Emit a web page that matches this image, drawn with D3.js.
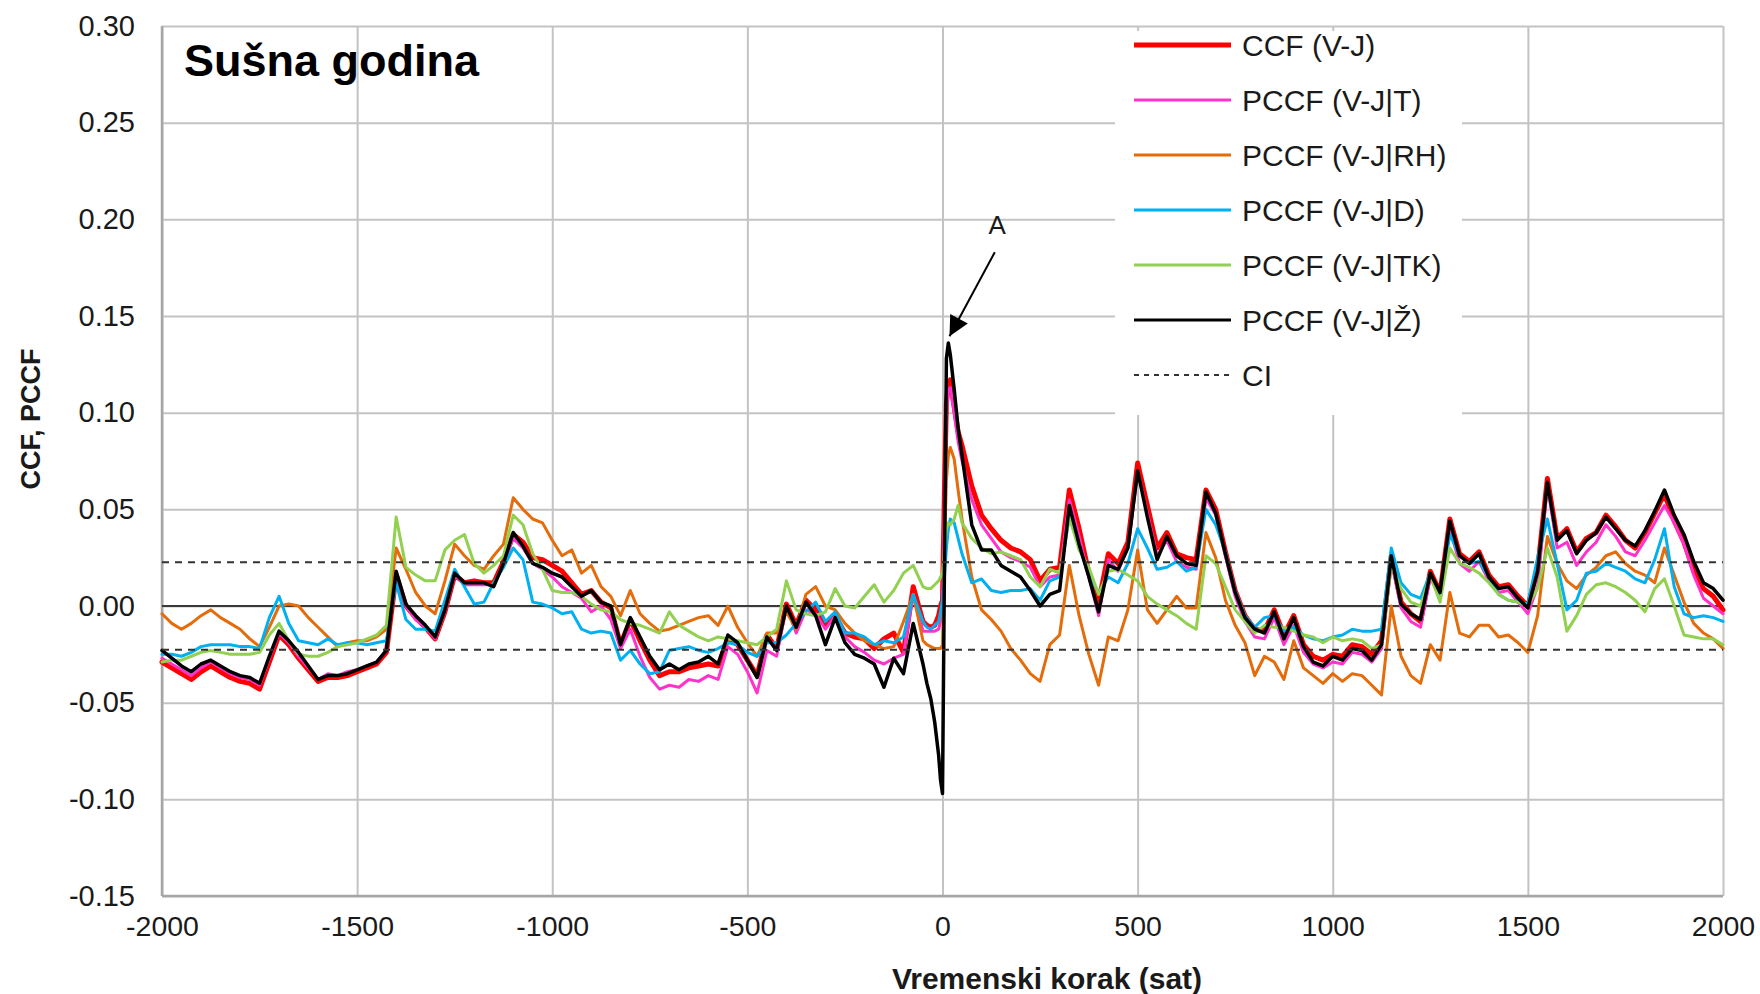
<!DOCTYPE html>
<html>
<head>
<meta charset="utf-8">
<script src="https://cdn.jsdelivr.net/npm/d3@7"></script>
<style>
  html, body { margin: 0; padding: 0; background: #ffffff; }
  svg { display: block; font-family: "Liberation Sans", Arial, sans-serif; }
</style>
</head>
<body>
<svg id="chart" width="1760" height="994"></svg>
<script>
// Lag axis (hours), finer spacing around zero lag
const lags = [
  -2000,-1975,-1950,-1925,-1900,-1875,-1850,-1825,-1800,-1775,
  -1750,-1725,-1700,-1675,-1650,-1625,-1600,-1575,-1550,-1525,
  -1500,-1475,-1450,-1425,-1400,-1375,-1350,-1325,-1300,-1275,
  -1250,-1225,-1200,-1175,-1150,-1125,-1100,-1075,-1050,-1025,
  -1000,-975,-950,-925,-900,-875,-850,-825,-800,-775,
  -750,-725,-700,-675,-650,-625,-600,-575,-550,-525,
  -500,-475,-450,-425,-400,-375,-350,-325,-300,-275,
  -250,-225,-200,-175,-150,-125,-100,-75,-50,-40,
  -30,-20,-10,-5,0,5,10,15,20,30,
  40,50,75,100,125,150,175,200,225,250,
  275,300,325,350,375,400,425,450,475,500,
  525,550,575,600,625,650,675,700,725,750,
  775,800,825,850,875,900,925,950,975,1000,
  1025,1050,1075,1100,1125,1150,1175,1200,1225,1250,
  1275,1300,1325,1350,1375,1400,1425,1450,1475,1500,
  1525,1550,1575,1600,1625,1650,1675,1700,1725,1750,
  1775,1800,1825,1850,1875,1900,1925,1950,1975,2000
];

// CCF (V-J)
const ccfVJ = [
  -0.029,-0.032,-0.035,-0.038,-0.034,-0.031,-0.034,-0.037,-0.039,-0.040,
  -0.043,-0.029,-0.015,-0.020,-0.027,-0.033,-0.039,-0.037,-0.037,-0.036,
  -0.034,-0.032,-0.030,-0.024,0.016,0.000,-0.006,-0.011,-0.017,-0.003,
  0.016,0.012,0.013,0.012,0.012,0.023,0.037,0.033,0.025,0.024,
  0.021,0.018,0.012,0.006,0.008,0.002,-0.001,-0.020,-0.007,-0.018,
  -0.028,-0.036,-0.034,-0.034,-0.032,-0.031,-0.030,-0.031,-0.017,-0.020,
  -0.028,-0.036,-0.015,-0.022,0.001,-0.010,0.003,-0.002,-0.010,-0.005,
  -0.014,-0.016,-0.017,-0.022,-0.017,-0.014,-0.024,0.010,-0.008,-0.010,
  -0.011,-0.010,-0.005,0.000,0.003,0.060,0.105,0.115,0.117,0.103,
  0.090,0.083,0.062,0.047,0.040,0.034,0.030,0.028,0.024,0.013,
  0.019,0.020,0.060,0.040,0.017,0.002,0.027,0.022,0.033,0.074,
  0.052,0.030,0.038,0.027,0.025,0.024,0.060,0.050,0.028,0.008,
  -0.005,-0.012,-0.013,-0.002,-0.015,-0.005,-0.020,-0.026,-0.028,-0.025,
  -0.026,-0.020,-0.021,-0.025,-0.018,0.026,0.002,-0.004,-0.008,0.018,
  0.007,0.045,0.027,0.023,0.028,0.016,0.010,0.011,0.005,0.000,
  0.019,0.066,0.035,0.040,0.028,0.035,0.038,0.047,0.041,0.034,
  0.030,0.038,0.048,0.058,0.044,0.033,0.018,0.009,0.005,-0.002
];

// PCCF (V-J|T)
const pccfT = [
  -0.027,-0.030,-0.033,-0.036,-0.032,-0.029,-0.032,-0.035,-0.037,-0.038,
  -0.041,-0.027,-0.014,-0.019,-0.026,-0.032,-0.038,-0.035,-0.036,-0.034,
  -0.033,-0.031,-0.029,-0.023,0.017,0.000,-0.007,-0.011,-0.017,-0.003,
  0.016,0.011,0.011,0.011,0.011,0.022,0.035,0.030,0.022,0.019,
  0.015,0.010,0.007,0.004,-0.003,0.000,-0.007,-0.022,-0.012,-0.026,
  -0.037,-0.043,-0.041,-0.042,-0.038,-0.039,-0.036,-0.038,-0.021,-0.025,
  -0.034,-0.045,-0.023,-0.026,0.000,-0.014,-0.002,-0.004,-0.012,-0.005,
  -0.016,-0.021,-0.024,-0.028,-0.030,-0.027,-0.025,0.006,-0.013,-0.013,
  -0.013,-0.013,-0.012,-0.008,0.000,0.050,0.100,0.112,0.113,0.100,
  0.085,0.075,0.055,0.042,0.035,0.028,0.025,0.023,0.020,0.010,
  0.015,0.016,0.055,0.036,0.015,-0.005,0.024,0.018,0.030,0.070,
  0.048,0.026,0.034,0.023,0.020,0.019,0.056,0.047,0.026,0.005,
  -0.008,-0.016,-0.017,-0.006,-0.020,-0.010,-0.024,-0.030,-0.032,-0.029,
  -0.030,-0.024,-0.025,-0.029,-0.022,0.024,-0.001,-0.008,-0.011,0.015,
  0.004,0.040,0.022,0.018,0.023,0.013,0.007,0.008,0.002,-0.004,
  0.010,0.063,0.030,0.033,0.021,0.028,0.033,0.042,0.036,0.028,
  0.026,0.034,0.043,0.052,0.043,0.032,0.016,0.004,0.000,-0.004
];

// PCCF (V-J|RH)
const pccfRH = [
  -0.004,-0.009,-0.012,-0.009,-0.005,-0.002,-0.006,-0.009,-0.012,-0.017,
  -0.021,-0.011,0.000,0.001,0.000,-0.006,-0.011,-0.016,-0.021,-0.019,
  -0.018,-0.018,-0.016,-0.012,0.030,0.019,0.007,0.000,-0.004,0.013,
  0.032,0.026,0.021,0.019,0.026,0.032,0.056,0.050,0.045,0.043,
  0.034,0.026,0.029,0.017,0.021,0.010,0.005,-0.005,0.008,-0.004,
  -0.009,-0.013,-0.012,-0.010,-0.008,-0.006,-0.005,-0.010,0.000,-0.011,
  -0.019,-0.026,-0.014,-0.014,-0.003,-0.012,0.006,0.010,0.000,-0.002,
  -0.009,-0.014,-0.018,-0.020,-0.022,-0.021,-0.008,0.006,-0.018,-0.020,
  -0.021,-0.022,-0.022,-0.022,-0.020,0.030,0.065,0.078,0.082,0.076,
  0.060,0.045,0.015,-0.002,-0.007,-0.013,-0.022,-0.028,-0.035,-0.039,
  -0.020,-0.015,0.021,-0.005,-0.025,-0.041,-0.016,-0.018,-0.002,0.029,
  -0.002,-0.009,-0.002,0.005,-0.001,-0.001,0.038,0.025,0.003,-0.010,
  -0.019,-0.036,-0.026,-0.029,-0.038,-0.018,-0.032,-0.036,-0.040,-0.035,
  -0.039,-0.035,-0.036,-0.041,-0.046,0.000,-0.026,-0.036,-0.040,-0.020,
  -0.028,0.007,-0.014,-0.016,-0.010,-0.010,-0.016,-0.015,-0.019,-0.024,
  -0.005,0.036,0.022,0.013,0.009,0.016,0.020,0.026,0.028,0.022,
  0.018,0.016,0.012,0.030,0.016,0.002,-0.009,-0.014,-0.017,-0.022
];

// PCCF (V-J|D)
const pccfD = [
  -0.025,-0.025,-0.026,-0.024,-0.021,-0.020,-0.020,-0.020,-0.021,-0.021,
  -0.022,-0.006,0.005,-0.009,-0.018,-0.019,-0.020,-0.017,-0.020,-0.019,
  -0.019,-0.020,-0.019,-0.018,0.012,-0.007,-0.012,-0.012,-0.013,0.003,
  0.019,0.010,0.001,0.002,0.012,0.020,0.030,0.024,0.002,0.001,
  -0.001,-0.004,-0.003,-0.012,-0.014,-0.013,-0.014,-0.028,-0.023,-0.030,
  -0.035,-0.034,-0.023,-0.022,-0.021,-0.023,-0.024,-0.022,-0.019,-0.020,
  -0.024,-0.026,-0.019,-0.019,-0.015,-0.009,-0.003,0.002,-0.008,-0.003,
  -0.014,-0.014,-0.016,-0.020,-0.018,-0.019,-0.016,0.006,-0.008,-0.011,
  -0.012,-0.010,-0.008,-0.003,0.003,0.015,0.030,0.040,0.045,0.043,
  0.035,0.027,0.012,0.014,0.008,0.007,0.008,0.008,0.009,0.003,
  0.013,0.015,0.046,0.031,0.016,0.007,0.015,0.012,0.022,0.040,
  0.030,0.019,0.020,0.023,0.018,0.020,0.050,0.042,0.028,0.008,
  -0.005,-0.011,-0.006,-0.005,-0.013,-0.011,-0.015,-0.017,-0.018,-0.016,
  -0.015,-0.012,-0.013,-0.013,-0.012,0.030,0.012,0.006,0.004,0.017,
  0.006,0.037,0.026,0.022,0.023,0.015,0.006,0.003,0.002,0.001,
  0.025,0.045,0.022,-0.002,0.003,0.017,0.018,0.022,0.020,0.018,
  0.014,0.012,0.024,0.040,0.010,-0.004,-0.006,-0.005,-0.006,-0.008
];

// PCCF (V-J|TK)
const pccfTK = [
  -0.029,-0.028,-0.028,-0.026,-0.024,-0.023,-0.024,-0.025,-0.025,-0.025,
  -0.024,-0.015,-0.009,-0.018,-0.025,-0.026,-0.026,-0.024,-0.021,-0.020,
  -0.019,-0.017,-0.015,-0.010,0.046,0.020,0.016,0.013,0.013,0.029,
  0.034,0.037,0.022,0.017,0.021,0.026,0.047,0.042,0.027,0.019,
  0.008,0.007,0.007,0.005,0.001,-0.002,-0.003,-0.007,-0.009,-0.010,
  -0.012,-0.014,-0.003,-0.010,-0.013,-0.016,-0.018,-0.016,-0.017,-0.018,
  -0.019,-0.020,-0.016,-0.012,0.013,-0.002,-0.004,-0.005,-0.003,0.009,
  0.000,-0.001,0.005,0.011,0.002,0.008,0.017,0.021,0.010,0.009,
  0.009,0.011,0.013,0.015,0.017,0.030,0.040,0.043,0.042,0.045,
  0.052,0.043,0.035,0.030,0.027,0.028,0.026,0.024,0.015,0.010,
  0.019,0.017,0.046,0.029,0.020,0.006,0.018,0.019,0.016,0.013,
  0.005,0.001,-0.002,-0.005,-0.009,-0.012,0.026,0.022,0.010,-0.002,
  -0.008,-0.014,-0.010,-0.011,-0.011,-0.013,-0.015,-0.016,-0.019,-0.016,
  -0.018,-0.017,-0.018,-0.022,-0.020,0.021,0.009,0.002,0.000,0.016,
  0.002,0.030,0.022,0.020,0.017,0.012,0.006,0.003,0.002,0.000,
  0.009,0.030,0.015,-0.013,-0.005,0.006,0.011,0.012,0.010,0.007,
  0.003,-0.003,0.009,0.014,0.000,-0.015,-0.016,-0.017,-0.017,-0.020
];

// PCCF (V-J|Ž)
const pccfZ = [
  -0.023,-0.027,-0.031,-0.034,-0.030,-0.028,-0.031,-0.034,-0.036,-0.037,
  -0.040,-0.026,-0.013,-0.018,-0.024,-0.031,-0.038,-0.036,-0.036,-0.035,
  -0.033,-0.031,-0.029,-0.023,0.018,0.001,-0.005,-0.010,-0.016,-0.002,
  0.017,0.012,0.012,0.012,0.010,0.022,0.038,0.031,0.022,0.020,
  0.017,0.015,0.010,0.005,0.008,0.002,0.000,-0.020,-0.006,-0.016,
  -0.026,-0.033,-0.030,-0.033,-0.030,-0.029,-0.026,-0.030,-0.015,-0.019,
  -0.028,-0.037,-0.016,-0.023,0.000,-0.011,0.002,-0.005,-0.020,-0.006,
  -0.019,-0.025,-0.027,-0.030,-0.042,-0.027,-0.035,-0.009,-0.030,-0.040,
  -0.048,-0.060,-0.077,-0.090,-0.097,0.020,0.128,0.136,0.130,0.112,
  0.092,0.078,0.042,0.029,0.029,0.021,0.018,0.015,0.008,0.000,
  0.006,0.008,0.052,0.032,0.015,-0.003,0.021,0.019,0.030,0.070,
  0.046,0.024,0.036,0.026,0.022,0.021,0.059,0.048,0.027,0.007,
  -0.006,-0.012,-0.014,-0.003,-0.017,-0.006,-0.021,-0.029,-0.031,-0.026,
  -0.028,-0.022,-0.023,-0.028,-0.020,0.026,0.001,-0.004,-0.007,0.017,
  0.007,0.044,0.026,0.022,0.027,0.015,0.009,0.010,0.004,-0.001,
  0.018,0.064,0.034,0.039,0.027,0.034,0.038,0.046,0.040,0.034,
  0.031,0.039,0.049,0.060,0.047,0.037,0.023,0.012,0.009,0.003
];

// Confidence interval (+/-)
const ciLevel = 0.0226;

// Axis ticks and their labels
const xTicks = [-2000, -1500, -1000, -500, 0, 500, 1000, 1500, 2000];
const xTickLabels = ["-2000", "-1500", "-1000", "-500", "0", "500", "1000", "1500", "2000"];
const yTicks = [-0.15, -0.10, -0.05, 0.00, 0.05, 0.10, 0.15, 0.20, 0.25, 0.30];
const yTickLabels = ["-0.15", "-0.10", "-0.05", "0.00", "0.05", "0.10", "0.15", "0.20", "0.25", "0.30"];

const seriesNames = ["CCF (V-J)", "PCCF (V-J|T)", "PCCF (V-J|RH)", "PCCF (V-J|D)", "PCCF (V-J|TK)", "PCCF (V-J|Ž)"];
const seriesValues = [ccfVJ, pccfT, pccfRH, pccfD, pccfTK, pccfZ];
const seriesColors = ["#ff0000", "#ff33cc", "#e46c0a", "#00b0f0", "#92d050", "#000000"];
const seriesWidths = [5, 3, 3, 3, 3, 3.5];

// ---- layout ----
const svg = d3.select("#chart");
const plot = { left: 162, right: 1723, top: 26, bottom: 896 };

const x = d3.scaleLinear().domain([-2000, 2000]).range([plot.left, plot.right]);
const y = d3.scaleLinear().domain([-0.15, 0.30]).range([plot.bottom, plot.top]);

// gridlines
const gridColor = "#c3c3c3";
const gx = svg.append("g")
  .attr("transform", `translate(0,${plot.bottom})`)
  .call(d3.axisBottom(x).tickValues(xTicks).tickSize(-(plot.bottom - plot.top)).tickFormat(""));
gx.select(".domain").remove();
gx.selectAll(".tick line").attr("stroke", gridColor).attr("stroke-width", 2);

const gy = svg.append("g")
  .attr("transform", `translate(${plot.left},0)`)
  .call(d3.axisLeft(y).tickValues(yTicks).tickSize(-(plot.right - plot.left)).tickFormat(""));
gy.select(".domain").remove();
gy.selectAll(".tick line").attr("stroke", gridColor).attr("stroke-width", 2);

// axis lines (left and bottom)
svg.append("line")
  .attr("x1", plot.left).attr("x2", plot.left)
  .attr("y1", plot.top).attr("y2", plot.bottom)
  .attr("stroke", "#a6a6a6").attr("stroke-width", 2.5);
svg.append("line")
  .attr("x1", plot.left).attr("x2", plot.right)
  .attr("y1", plot.bottom).attr("y2", plot.bottom)
  .attr("stroke", "#a6a6a6").attr("stroke-width", 2.5);

// tick labels
const xl = svg.append("g")
  .attr("transform", `translate(0,${plot.bottom})`)
  .call(d3.axisBottom(x).tickValues(xTicks).tickSize(0).tickPadding(20)
    .tickFormat((d, i) => xTickLabels[i]));
xl.select(".domain").remove();
xl.selectAll("text").attr("font-size", 28.5).attr("fill", "#1a1a1a")
  .attr("font-family", "'Liberation Sans', Arial, sans-serif");

const yl = svg.append("g")
  .attr("transform", `translate(${plot.left},0)`)
  .call(d3.axisLeft(y).tickValues(yTicks).tickSize(0).tickPadding(27)
    .tickFormat((d, i) => yTickLabels[i]));
yl.select(".domain").remove();
yl.selectAll("text").attr("font-size", 29).attr("fill", "#1a1a1a")
  .attr("font-family", "'Liberation Sans', Arial, sans-serif");

// zero line
svg.append("line")
  .attr("x1", x(-2000)).attr("x2", x(2000))
  .attr("y1", y(0)).attr("y2", y(0))
  .attr("stroke", "#3a3a3a").attr("stroke-width", 2);

// series
const line = d3.line()
  .x((d, i) => x(lags[i]))
  .y(d => y(d));

const gSeries = svg.append("g").attr("fill", "none")
  .attr("stroke-linejoin", "round").attr("stroke-linecap", "round");
seriesValues.forEach((vals, k) => {
  gSeries.append("path")
    .datum(vals)
    .attr("d", line)
    .attr("stroke", seriesColors[k])
    .attr("stroke-width", seriesWidths[k]);
});

// confidence interval lines
[ciLevel, -ciLevel].forEach(v => {
  svg.append("line")
    .attr("x1", x(-2000)).attr("x2", x(2000))
    .attr("y1", y(v)).attr("y2", y(v))
    .attr("stroke", "#333333").attr("stroke-width", 2)
    .attr("stroke-dasharray", "7,6");
});

// legend
const legend = svg.append("g");
legend.append("rect")
  .attr("x", 1115).attr("y", 31).attr("width", 347).attr("height", 384)
  .attr("fill", "#ffffff");
const legendItems = seriesNames.map((n, k) => ({
  name: n, color: seriesColors[k], width: k === 0 ? 5 : 3, dash: null
})).concat([{ name: "CI", color: "#333333", width: 2, dash: "5,5" }]);

legendItems.forEach((it, k) => {
  const cy = 45 + k * 55;
  legend.append("line")
    .attr("x1", 1134).attr("x2", 1231)
    .attr("y1", cy).attr("y2", cy)
    .attr("stroke", it.color).attr("stroke-width", it.width)
    .attr("stroke-dasharray", it.dash);
  legend.append("text")
    .attr("x", 1242).attr("y", cy).attr("dy", "0.36em")
    .attr("font-size", 30).attr("fill", "#1a1a1a")
    .text(it.name);
});

// panel title
svg.append("text")
  .attr("x", 184).attr("y", 76)
  .attr("font-size", 45).attr("font-weight", "bold").attr("fill", "#000")
  .text("Sušna godina");

// axis titles
svg.append("text")
  .attr("x", 1047).attr("y", 989)
  .attr("text-anchor", "middle")
  .attr("font-size", 30).attr("font-weight", "bold").attr("fill", "#1a1a1a")
  .text("Vremenski korak (sat)");

svg.append("text")
  .attr("transform", "translate(40,419) rotate(-90)")
  .attr("text-anchor", "middle")
  .attr("font-size", 27).attr("font-weight", "bold").attr("fill", "#1a1a1a")
  .text("CCF, PCCF");

// annotation "A" pointing at the main peak
const defs = svg.append("defs");
defs.append("marker")
  .attr("id", "arrowhead")
  .attr("viewBox", "0 0 10 10")
  .attr("refX", 10).attr("refY", 5)
  .attr("markerUnits", "userSpaceOnUse")
  .attr("markerWidth", 24).attr("markerHeight", 20)
  .attr("orient", "auto")
  .append("path").attr("d", "M0,0 L10,5 L0,10 Z").attr("fill", "#000");

svg.append("line")
  .attr("x1", x(134)).attr("y1", y(0.183))
  .attr("x2", x(18)).attr("y2", y(0.1395))
  .attr("stroke", "#000").attr("stroke-width", 2)
  .attr("marker-end", "url(#arrowhead)");

svg.append("text")
  .attr("x", x(140)).attr("y", y(0.197)).attr("dy", "0.36em")
  .attr("text-anchor", "middle")
  .attr("font-size", 26).attr("fill", "#1a1a1a")
  .text("A");
</script>
</body>
</html>
